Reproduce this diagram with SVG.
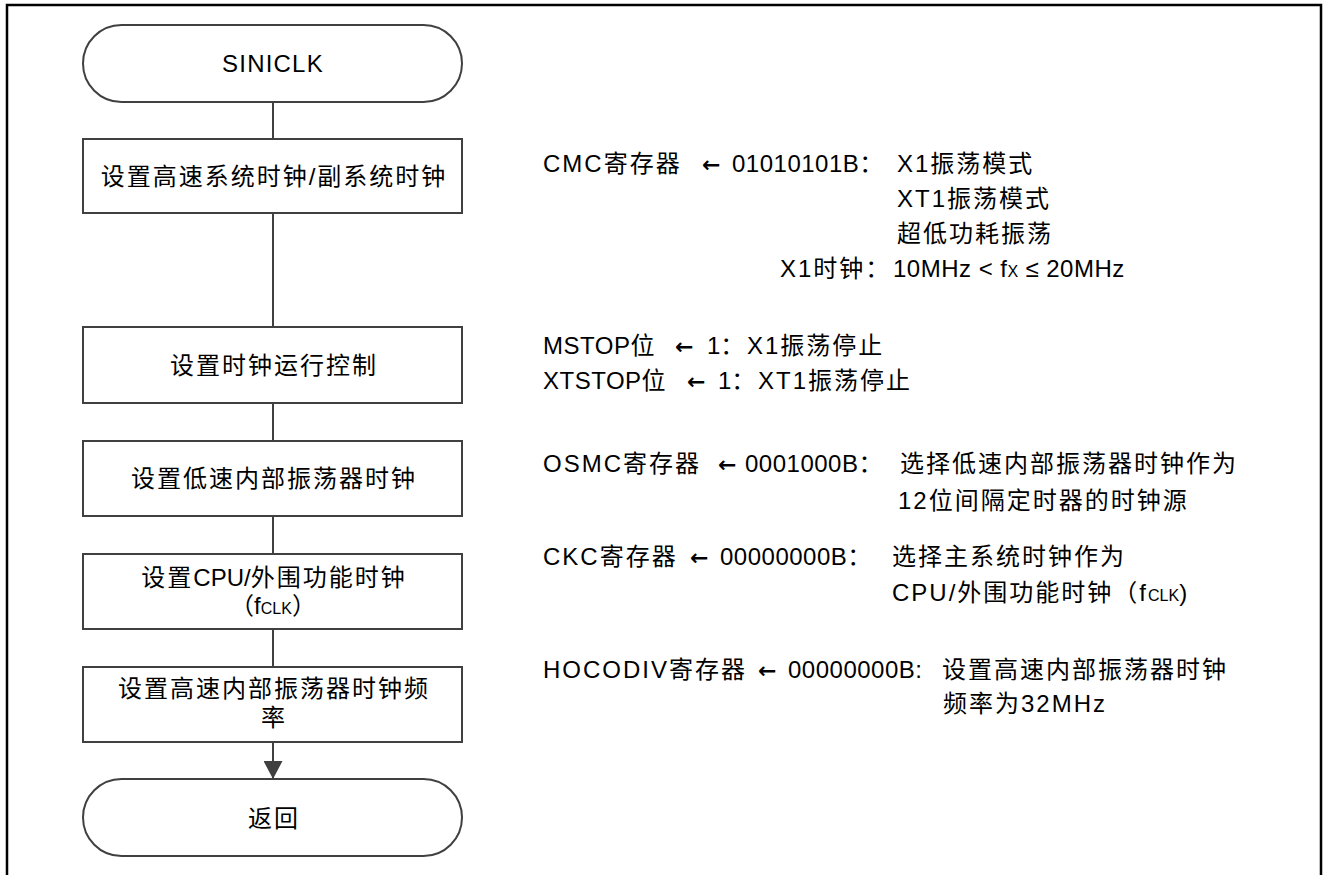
<svg xmlns="http://www.w3.org/2000/svg" width="1330" height="875" viewBox="0 0 1330 875">
<style>
text{font-family:"Liberation Sans","Noto Sans CJK SC",sans-serif;font-size:24px;fill:#000}
.c{letter-spacing:2px}
.l{letter-spacing:0.5px}
.m{text-anchor:middle}
.s{font-size:16px;letter-spacing:0}
.ar{font-family:"DejaVu Sans",sans-serif;font-weight:bold;font-size:22px}
.box{fill:#fff;stroke:#404040;stroke-width:2}
.ln{fill:none;stroke:#404040;stroke-width:2}
</style>
<defs>
<marker id="ah" markerUnits="userSpaceOnUse" markerWidth="20" markerHeight="19" refX="18" refY="9.5" orient="auto">
<path d="M0,0 L18,9.5 L0,19 z" fill="#404040"/>
</marker>
</defs>
<rect x="0" y="0" width="1330" height="875" fill="#fff"/>
<path d="M7,875 V5 H1321 V875" fill="none" stroke="#000" stroke-width="2.5"/>

<g id="connectors">
<line class="ln" x1="273" y1="102" x2="273" y2="139"/>
<line class="ln" x1="273" y1="213" x2="273" y2="327"/>
<line class="ln" x1="273" y1="403" x2="273" y2="441"/>
<line class="ln" x1="273" y1="516" x2="273" y2="554"/>
<line class="ln" x1="273" y1="629" x2="273" y2="667"/>
<line class="ln" x1="273" y1="742" x2="273" y2="779" marker-end="url(#ah)"/>
</g>

<g id="start">
<rect class="box" x="83" y="25" width="379" height="77" rx="38.5" ry="38.5"/>
<text class="m" x="273" y="72" style="letter-spacing:1.2px">SINICLK</text>
</g>
<g id="step1">
<rect class="box" x="83" y="139" width="379" height="74"/>
<text class="m c" x="274" y="185">设置高速系统时钟/副系统时钟</text>
</g>
<g id="step2">
<rect class="box" x="83" y="327" width="379" height="76"/>
<text class="m c" x="274" y="374">设置时钟运行控制</text>
</g>
<g id="step3">
<rect class="box" x="83" y="441" width="379" height="75"/>
<text class="m c" x="274" y="487">设置低速内部振荡器时钟</text>
</g>
<g id="step4">
<rect class="box" x="83" y="554" width="379" height="75"/>
<text class="m" x="274" y="586"><tspan class="c">设置</tspan>CPU/<tspan class="c">外围功能时钟</tspan></text>
<text class="m" x="273" y="614">（f<tspan class="s">CLK</tspan>）</text>
</g>
<g id="step5">
<rect class="box" x="83" y="667" width="379" height="75"/>
<text class="m c" x="274" y="697">设置高速内部振荡器时钟频</text>
<text class="m" x="273" y="726">率</text>
</g>
<g id="end">
<rect class="box" x="83" y="779" width="379" height="77" rx="38.5" ry="38.5"/>
<text class="m c" x="274" y="827">返回</text>
</g>

<g id="notes">
<text y="172"><tspan x="543" class="c">CMC寄存器</tspan><tspan x="702" class="ar">←</tspan><tspan x="732" class="l">01010101B：</tspan><tspan x="897" class="c">X1振荡模式</tspan></text>
<text y="207"><tspan x="897" class="c">XT1振荡模式</tspan></text>
<text y="242"><tspan x="897" class="c">超低功耗振荡</tspan></text>
<text y="277"><tspan x="780" class="c">X1时钟：</tspan><tspan x="893" class="l">10MHz &lt; f<tspan class="s">X</tspan> ≤ 20MHz</tspan></text>

<text y="354"><tspan x="543" class="l">MSTOP位</tspan><tspan x="675" class="ar">←</tspan><tspan x="707">1：</tspan><tspan x="747" class="c">X1振荡停止</tspan></text>
<text y="389"><tspan x="543" class="l">XTSTOP位</tspan><tspan x="687" class="ar">←</tspan><tspan x="718">1：</tspan><tspan x="758" class="c">XT1振荡停止</tspan></text>

<text y="472"><tspan x="543" class="c">OSMC寄存器</tspan><tspan x="718" class="ar">←</tspan><tspan x="745" class="l">0001000B：</tspan><tspan x="900" class="c">选择低速内部振荡器时钟作为</tspan></text>
<text y="509"><tspan x="898" class="c">12位间隔定时器的时钟源</tspan></text>

<text y="565"><tspan x="543" class="c">CKC寄存器</tspan><tspan x="690" class="ar">←</tspan><tspan x="720" class="l">00000000B：</tspan><tspan x="892" class="c">选择主系统时钟作为</tspan></text>
<text y="601"><tspan x="892" class="c">CPU/外围功能时钟（f</tspan><tspan class="s">CLK</tspan><tspan>)</tspan></text>

<text y="678"><tspan x="543" class="c">HOCODIV寄存器</tspan><tspan x="758" class="ar">←</tspan><tspan x="788" class="l">00000000B:</tspan><tspan x="942" class="c">设置高速内部振荡器时钟</tspan></text>
<text y="712"><tspan x="943" class="c">频率为32MHz</tspan></text>
</g>
</svg>
